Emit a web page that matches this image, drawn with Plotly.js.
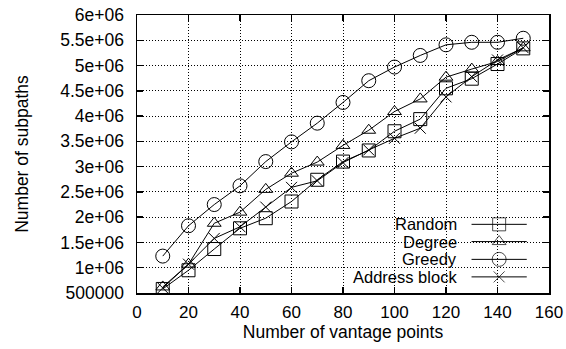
<!DOCTYPE html>
<html>
<head>
<meta charset="utf-8">
<script src="https://cdn.plot.ly/plotly-3.0.1.min.js"></script>
<style>html,body{margin:0;padding:0;background:#fff;}#chart{width:566px;height:349px;}</style>
</head>
<body>
<div id="chart"></div>
<script>
const vantage = [10, 20, 30, 40, 50, 60, 70, 80, 90, 100, 110, 120, 130, 140, 150];
const randomSel = [580000, 950000, 1370000, 1780000, 1980000, 2310000, 2740000, 3100000, 3320000, 3700000, 3940000, 4550000, 4740000, 5030000, 5340000];
const degreeSel = [620000, 1070000, 1880000, 2100000, 2550000, 2870000, 3090000, 3420000, 3720000, 4090000, 4340000, 4770000, 4930000, 5080000, 5350000];
const greedySel = [1230000, 1830000, 2250000, 2620000, 3100000, 3490000, 3860000, 4270000, 4700000, 4970000, 5200000, 5410000, 5460000, 5460000, 5540000];
const addressSel = [600000, 1070000, 1580000, 1810000, 2200000, 2590000, 2720000, 3080000, 3330000, 3560000, 3760000, 4380000, 4780000, 5110000, 5350000];

const seriesNames = ['Random', 'Degree', 'Greedy', 'Address block'];
const seriesSymbols = ['square-open', 'triangle-up-open', 'circle-open', 'x-thin-open'];
const seriesSizes = [13, 12, 14, 11];

const xTicks = [0, 20, 40, 60, 80, 100, 120, 140, 160];
const yTicks = [500000, 1000000, 1500000, 2000000, 2500000, 3000000, 3500000, 4000000, 4500000, 5000000, 5500000, 6000000];
const yTickText = ['500000', '1e+06', '1.5e+06', '2e+06', '2.5e+06', '3e+06', '3.5e+06', '4e+06', '4.5e+06', '5e+06', '5.5e+06', '6e+06'];

// legend placement (paper fractions)
const legRows = [0.247, 0.185, 0.121, 0.058];
const legTextX = 0.780, legLineX0 = 0.812, legLineX1 = 0.946, legMarkX = 0.879;

const FONT = '"Liberation Sans", Arial, Helvetica, sans-serif';
const allY = [randomSel, degreeSel, greedySel, addressSel];

const traces = [];
allY.forEach((ys, i) => {
  traces.push({
    x: vantage, y: ys, type: 'scatter', mode: 'lines+markers', name: seriesNames[i],
    line: {color: '#000', width: 1},
    marker: {symbol: seriesSymbols[i], size: seriesSizes[i], color: '#000', line: {color: '#000', width: 1}},
    showlegend: false, hoverinfo: 'skip'
  });
});
// custom legend samples on hidden overlay axes
seriesNames.forEach((n, i) => {
  traces.push({
    x: [legLineX0, legMarkX, legLineX1], y: [legRows[i], legRows[i], legRows[i]],
    xaxis: 'x2', yaxis: 'y2', type: 'scatter', mode: 'lines+markers',
    line: {color: '#000', width: 1},
    marker: {symbol: seriesSymbols[i], size: [0, seriesSizes[i], 0], color: '#000', line: {color: '#000', width: 1}},
    showlegend: false, hoverinfo: 'skip'
  });
});

const annotations = seriesNames.map((n, i) => ({
  xref: 'paper', yref: 'paper', x: legTextX, y: legRows[i], xanchor: 'right', yanchor: 'middle',
  text: n, showarrow: false, borderpad: 0,
  font: {family: FONT, size: 16.5, color: '#000'}
}));

const axisCommon = {
  showline: true, linecolor: '#000', linewidth: 1.5, mirror: 'ticks',
  ticks: 'inside', ticklen: 6, tickwidth: 1.5, tickcolor: '#000',
  showgrid: true, gridcolor: '#000', gridwidth: 1, griddash: '1px,2px',
  zeroline: false, tickfont: {family: FONT, size: 17, color: '#000'}
};

const layout = {
  width: 566, height: 349,
  margin: {l: 137, r: 17, t: 15, b: 56},
  paper_bgcolor: '#fff', plot_bgcolor: '#fff',
  showlegend: false,
  xaxis: Object.assign({}, axisCommon, {
    range: [0, 160], tickmode: 'array', tickvals: xTicks, ticklabelstandoff: 3,
    title: {text: 'Number of vantage points', font: {family: FONT, size: 17.5, color: '#000'}, standoff: 5}
  }),
  yaxis: Object.assign({}, axisCommon, {
    range: [500000, 6000000], tickmode: 'array', tickvals: yTicks, ticktext: yTickText, ticklabelstandoff: 8,
    tickfont: {family: FONT, size: 17.5, color: '#000'},
    title: {text: 'Number of subpaths', font: {family: FONT, size: 17.5, color: '#000'}, standoff: 27}
  }),
  xaxis2: {overlaying: 'x', range: [0, 1], visible: false, fixedrange: true},
  yaxis2: {overlaying: 'y', range: [0, 1], visible: false, fixedrange: true},
  shapes: [
    {type: 'rect', xref: 'paper', yref: 'paper', x0: 0.614, x1: 0.978, y0: 0.005, y1: 0.306,
     fillcolor: '#fff', line: {width: 0}, layer: 'between'},
    {type: 'rect', xref: 'paper', yref: 'paper', x0: 0.50, x1: 0.62, y0: 0.005, y1: 0.085,
     fillcolor: '#fff', line: {width: 0}, layer: 'between'}
  ],
  annotations: annotations
};

Plotly.newPlot('chart', traces, layout, {displayModeBar: false, staticPlot: true});
</script>
</body>
</html>
